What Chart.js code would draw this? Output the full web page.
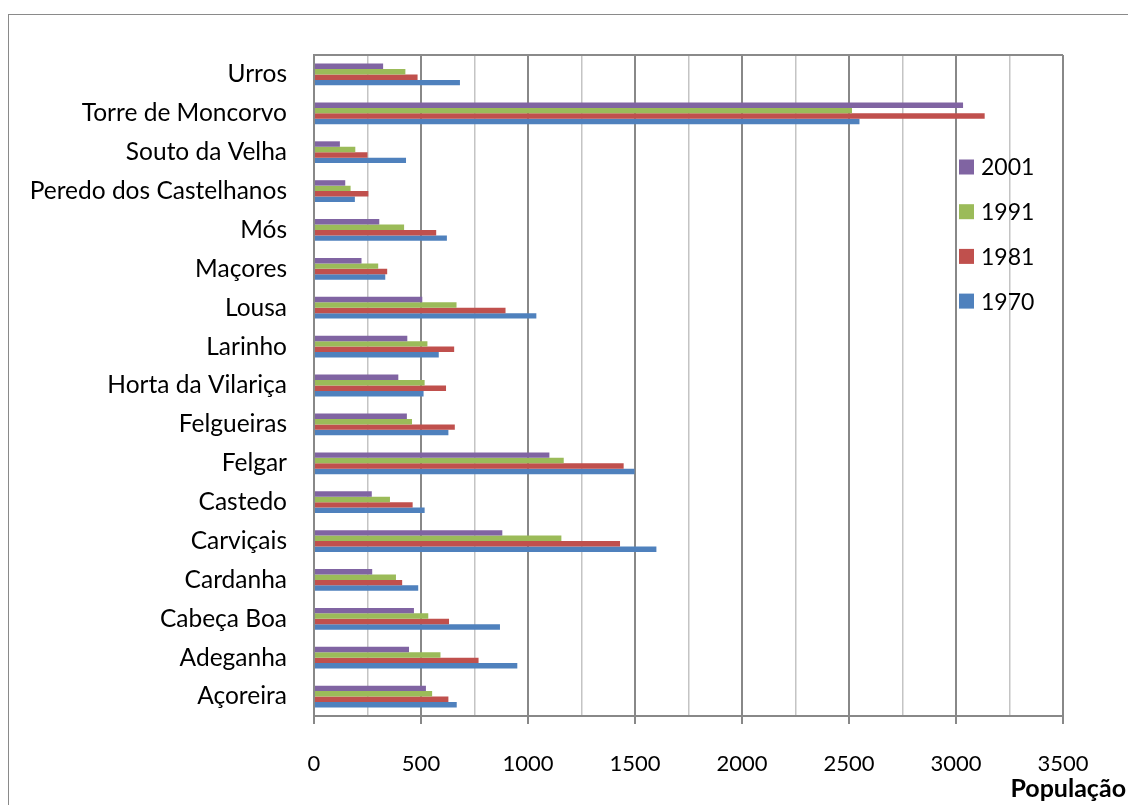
<!DOCTYPE html>
<html>
<head>
<meta charset="utf-8">
<script src="https://cdn.jsdelivr.net/npm/chart.js@4.4.1/dist/chart.umd.min.js"></script>
<style>
  html, body { margin: 0; padding: 0; background: #fff; }
  #wrap { width: 1128px; height: 805px; position: relative; }
</style>
</head>
<body>
<div id="wrap"><canvas id="myChart" width="1128" height="805"></canvas></div>
<script>
// categories from bottom (Açoreira) to top (Urros)
const freguesias = ['Açoreira','Adeganha','Cabeça Boa','Cardanha','Carviçais','Castedo','Felgar',
  'Felgueiras','Horta da Vilariça','Larinho','Lousa','Maçores','Mós','Peredo dos Castelhanos',
  'Souto da Velha','Torre de Moncorvo','Urros'];
const pop1970 = [667, 950, 869, 487, 1600, 517, 1498, 628, 512, 583, 1039, 333, 621, 191, 430, 2549, 682];
const pop1981 = [628, 769, 631, 412, 1430, 461, 1447, 658, 617, 655, 895, 342, 571, 254, 250, 3134, 484];
const pop1991 = [552, 591, 534, 383, 1156, 355, 1167, 458, 517, 530, 666, 300, 421, 171, 193, 2514, 427];
const pop2001 = [523, 444, 467, 272, 880, 270, 1100, 434, 394, 436, 506, 222, 305, 146, 121, 3033, 323];
const xTicks = [0, 500, 1000, 1500, 2000, 2500, 3000, 3500];

const FONT = 'Lato, "Open Sans", sans-serif';

const frameAndLegend = {
  id: 'frameAndLegend',
  beforeDraw(chart) {
    const c = chart.ctx;
    c.save();
    c.fillStyle = '#fff';
    c.fillRect(0, 0, chart.width, chart.height);
    c.strokeStyle = '#8a8a8a';
    c.lineWidth = 1;
    c.strokeRect(8.5, 14.5, chart.width + 20, chart.height + 20);
    c.restore();
  },
  afterDraw(chart) {
    const c = chart.ctx;
    const a = chart.chartArea;
    c.save();
    // top edge of plot area
    c.strokeStyle = '#8a8a8a';
    c.lineWidth = 2;
    c.beginPath();
    c.moveTo(a.left, a.top);
    c.lineTo(a.right, a.top);
    c.stroke();
    // legend
    c.font = '23px ' + FONT;
    c.textBaseline = 'middle';
    c.textAlign = 'left';
    chart.data.datasets.forEach((ds, i) => {
      const y = 167 + i * 44.7;
      c.fillStyle = ds.backgroundColor;
      c.fillRect(959, y - 7.5, 15, 15);
      c.fillStyle = '#000';
      c.fillText(ds.label, 981, y + 1);
    });
    // axis title
    c.font = 'bold 25px ' + FONT;
    c.textAlign = 'right';
    c.textBaseline = 'alphabetic';
    c.fillText('População', 1126, 797);
    c.restore();
  }
};

new Chart(document.getElementById('myChart'), {
  type: 'bar',
  data: {
    labels: freguesias,
    datasets: [
      { label: '2001', data: pop2001, backgroundColor: '#8064A2' },
      { label: '1991', data: pop1991, backgroundColor: '#9BBB59' },
      { label: '1981', data: pop1981, backgroundColor: '#C0504D' },
      { label: '1970', data: pop1970, backgroundColor: '#4F81BD' }
    ]
  },
  options: {
    indexAxis: 'y',
    responsive: false,
    animation: false,
    devicePixelRatio: 1,
    layout: { padding: { top: 55, right: 65, left: 0, bottom: 0 } },
    datasets: { bar: { categoryPercentage: 0.56, barPercentage: 1, borderWidth: 0 } },
    scales: {
      x: {
        min: 0,
        max: 3500,
        afterBuildTicks: s => {
          const t = [];
          for (let v = 0; v <= 3500; v += 250) t.push({ value: v });
          s.ticks = t;
        },
        afterFit: s => { s.height = 89; },
        ticks: {
          autoSkip: false,
          maxRotation: 0,
          padding: 27,
          color: '#000',
          font: { family: FONT, size: 22 },
          callback: v => xTicks.includes(v) ? String(v) : ''
        },
        grid: {
          color: ctx => (ctx.tick && ctx.tick.value % 500 === 0) ? '#888888' : '#c4c4c4',
          lineWidth: ctx => (ctx.tick && ctx.tick.value % 500 === 0) ? 2 : 1.5,
          tickColor: ctx => (ctx.tick && ctx.tick.value % 500 === 0) ? '#888888' : 'rgba(0,0,0,0)',
          tickLength: 8
        },
        border: { display: true, color: '#888888', width: 2 }
      },
      y: {
        reverse: true,
        afterFit: s => { s.width = 314; },
        ticks: {
          padding: 19,
          color: '#000',
          autoSkip: false,
          font: { family: FONT, size: 24.5 }
        },
        grid: { display: false },
        border: { display: true, color: '#888888', width: 2 }
      }
    },
    plugins: {
      legend: { display: false },
      tooltip: { enabled: false }
    }
  },
  plugins: [frameAndLegend]
});
</script>
</body>
</html>
